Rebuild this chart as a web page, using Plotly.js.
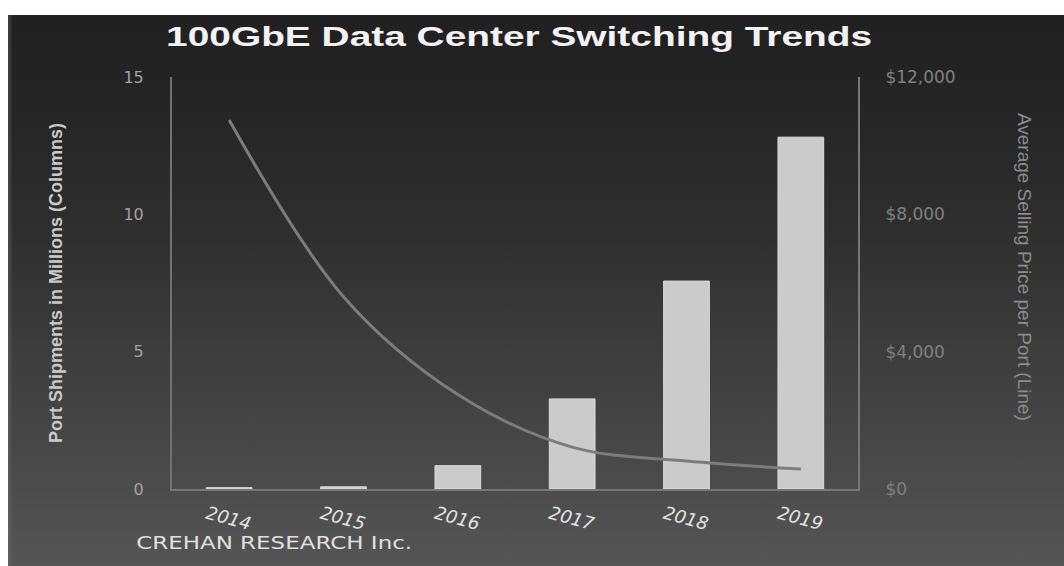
<!DOCTYPE html>
<html>
<head>
<meta charset="utf-8">
<script src="https://cdn.plot.ly/plotly-3.0.1.min.js"></script>
<style>
  html, body { margin: 0; padding: 0; background: #ffffff; width: 1064px; height: 566px; overflow: hidden; }
  #chart {
    position: absolute; left: 8px; top: 15px; width: 1056px; height: 551px;
    background: linear-gradient(to bottom, #202020 0%, #262626 20%, #2f2f2f 40%, #3c3c3c 60%, #484848 80%, #555555 100%);
    box-shadow: inset 4px 0 3px -1px rgba(120,120,120,0.35);
  }
</style>
</head>
<body>
<div id="chart"></div>
<script>
// ---- data ----
const years = ['2014', '2015', '2016', '2017', '2018', '2019'];
const portShipmentsMillions = [0.05, 0.08, 0.85, 3.28, 7.57, 12.81];
const avgSellingPrice = [10750, 5600, 2750, 1220, 815, 585];
const leftTickVals = [0, 5, 10, 15];
const leftTickText = ['0', '5', '10', '15'];
const rightTickVals = [0, 4000, 8000, 12000];
const rightTickText = ['$0', '$4,000', '$8,000', '$12,000'];

const traces = [
  {
    type: 'bar',
    x: years,
    y: portShipmentsMillions,
    name: 'Port Shipments (Columns)',
    marker: { color: '#cbcbcb', line: { color: '#dadada', width: 1 } },
    hoverinfo: 'x+y'
  },
  {
    type: 'scatter',
    mode: 'lines',
    x: years,
    y: avgSellingPrice,
    yaxis: 'y2',
    name: 'Average Selling Price (Line)',
    line: { color: '#7c7c7c', width: 3, shape: 'spline', smoothing: 1 },
    hoverinfo: 'x+y'
  }
];

const layout = {
  width: 1056,
  height: 551,
  paper_bgcolor: 'rgba(0,0,0,0)',
  plot_bgcolor: 'rgba(0,0,0,0)',
  margin: { l: 164, r: 206, t: 62, b: 77 },
  showlegend: false,
  bargap: 0.6,
  title: {
    text: '100GbE Data Center Switching Trends',
    font: { family: 'Liberation Sans, Arial, sans-serif', size: 27, color: '#f2f2f2', weight: 'bold' },
    x: 0.484, xanchor: 'center',
    y: 0.96, yanchor: 'middle', yref: 'container'
  },
  xaxis: {
    type: 'category',
    showline: true, linecolor: '#777777', linewidth: 2,
    showgrid: false, zeroline: false,
    ticks: 'outside', ticklen: 6, tickcolor: 'rgba(0,0,0,0)',
    tickangle: 15,
    ticklabelshift: -22,
    tickfont: { family: 'DejaVu Sans, sans-serif', size: 18, color: '#e2e2e2', style: 'italic' },
    fixedrange: true
  },
  yaxis: {
    range: [0, 15],
    tickvals: leftTickVals,
    ticktext: leftTickText,
    showline: true, linecolor: '#727272', linewidth: 2,
    showgrid: false, zeroline: false,
    ticks: 'outside', ticklen: 23, tickcolor: 'rgba(0,0,0,0)',
    tickfont: { family: 'DejaVu Sans, sans-serif', size: 16, color: '#a2a2a2' },
    title: {
      text: 'Port Shipments in Millions (Columns)',
      font: { family: 'Liberation Sans, Arial, sans-serif', size: 18, color: '#cacaca', weight: 'bold' },
      standoff: 56
    },
    fixedrange: true
  },
  yaxis2: {
    overlaying: 'y', side: 'right',
    range: [0, 12000],
    tickvals: rightTickVals,
    ticktext: rightTickText,
    showline: true, linecolor: '#777777', linewidth: 2,
    showgrid: false, zeroline: false,
    ticks: 'outside', ticklen: 22, tickcolor: 'rgba(0,0,0,0)',
    tickfont: { family: 'DejaVu Sans, sans-serif', size: 17, color: '#808080' },
    fixedrange: true
  },
  annotations: [
    {
      text: 'Average Selling Price per Port (Line)',
      xref: 'paper', yref: 'paper',
      x: 1.242, y: 0.539, xanchor: 'center', yanchor: 'middle',
      textangle: 90, showarrow: false,
      font: { family: 'Liberation Sans, Arial, sans-serif', size: 19, color: '#8c8c8c' }
    },
    {
      text: 'CREHAN RESEARCH Inc.',
      xref: 'paper', yref: 'paper',
      x: -0.0117, y: -0.131, xanchor: 'left', yanchor: 'middle',
      showarrow: false,
      font: { family: 'DejaVu Sans, Verdana, sans-serif', size: 18, color: '#e0e0e0' }
    }
  ]
};

Plotly.newPlot('chart', traces, layout, { displayModeBar: false }).then(function (gd) {
  // The reference artwork is horizontally stretched; widen the title and credit glyphs to match.
  const t = gd.querySelector('.gtitle');
  if (t) { t.setAttribute('textLength', '706'); t.setAttribute('lengthAdjust', 'spacingAndGlyphs'); }
  const anns = gd.querySelectorAll('.annotation-text');
  anns.forEach(function (a) {
    if (a.textContent.indexOf('CREHAN') === 0) {
      a.setAttribute('textLength', '276'); a.setAttribute('lengthAdjust', 'spacingAndGlyphs');
    }
  });
});
</script>
</body>
</html>
